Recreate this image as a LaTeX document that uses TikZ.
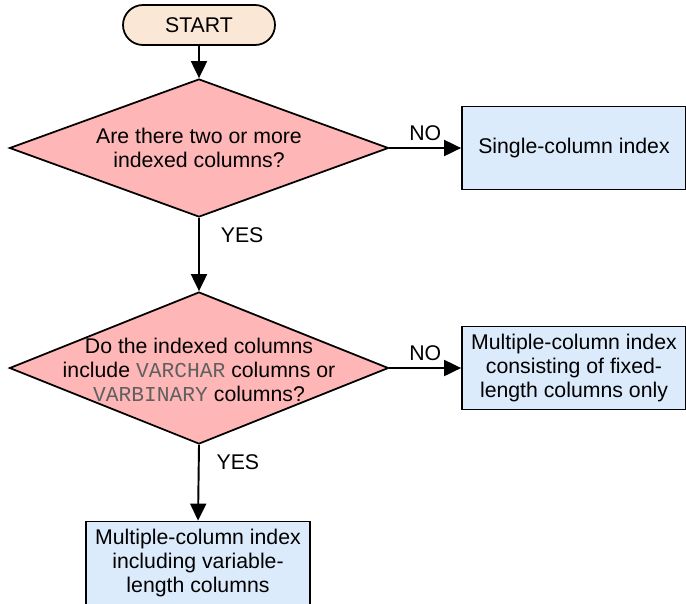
\documentclass[tikz,border=0pt]{standalone}
\usepackage{fontspec}
\setmainfont{Liberation Sans}
\newfontfamily\codefont{Liberation Mono}
\usetikzlibrary{positioning, calc, arrows.meta, shapes}

\definecolor{startcol}{RGB}{251,231,214}
\definecolor{askcol}{RGB}{255,182,182}
\definecolor{boxcol}{RGB}{220,235,251}
\definecolor{codecol}{RGB}{96,96,96}
\newcommand{\code}[1]{{\codefont\color{codecol}#1}}

\tikzset{
    every node/.style={font=\fontsize{12.1}{13.7}\selectfont},
    startnode/.style={draw, fill=startcol, line width=1pt, rounded corners=0.4cm,
        minimum width=3.04cm, minimum height=0.8cm},
    ask/.style={draw, diamond, fill=askcol, line width=1pt, inner sep=0pt,
        minimum width=7.58cm, minimum height=#1},
    answer/.style={draw, fill=boxcol, line width=1pt, align=center,
        minimum width=4.48cm, minimum height=1.66cm},
    flow/.style={-{Triangle[length=0.34cm, width=0.32cm]}, line width=1.1pt},
}

\begin{document}
\begin{tikzpicture}
    \useasboundingbox (0,0) rectangle (13.72,-12.06);
    \node[startnode] (start) at (3.98,-0.5) {START};
    % first question
    \node[ask=2.76cm] (q1) at (3.98,-2.96) {};
    \node[align=center] (q1text) at (q1) {Are there two or more\\indexed columns?};
    \node[answer] (single) at (11.48,-2.96) {Single-column index};
    % second question
    \node[ask=3.04cm] (q2) at (3.98,-7.36) {};
    \node[align=center] (q2text) at (3.98,-7.4)
        {Do the indexed columns\\include \code{VARCHAR} columns or\\\code{VARBINARY} columns?};
    \node[answer] (fixed) at (11.48,-7.36)
        {Multiple-column index\\consisting of fixed-\\length columns only};
    \node[answer] (variable) at (3.96,-11.26)
        {Multiple-column index\\including variable-\\length columns};

    \draw[flow] (start) -- (q1);
    \draw[flow] (q1.east) -- node[above] {NO} (single.west);
    \draw[flow] (q1.south) -- node[pos=0.23, right=0.3cm] {YES} (q2.north);
    \draw[flow] (q2.east) -- node[above] {NO} (fixed.west);
    \draw[flow] (q2.south) -- node[pos=0.23, right=0.22cm] {YES} (variable.north);
\end{tikzpicture}
\end{document}
